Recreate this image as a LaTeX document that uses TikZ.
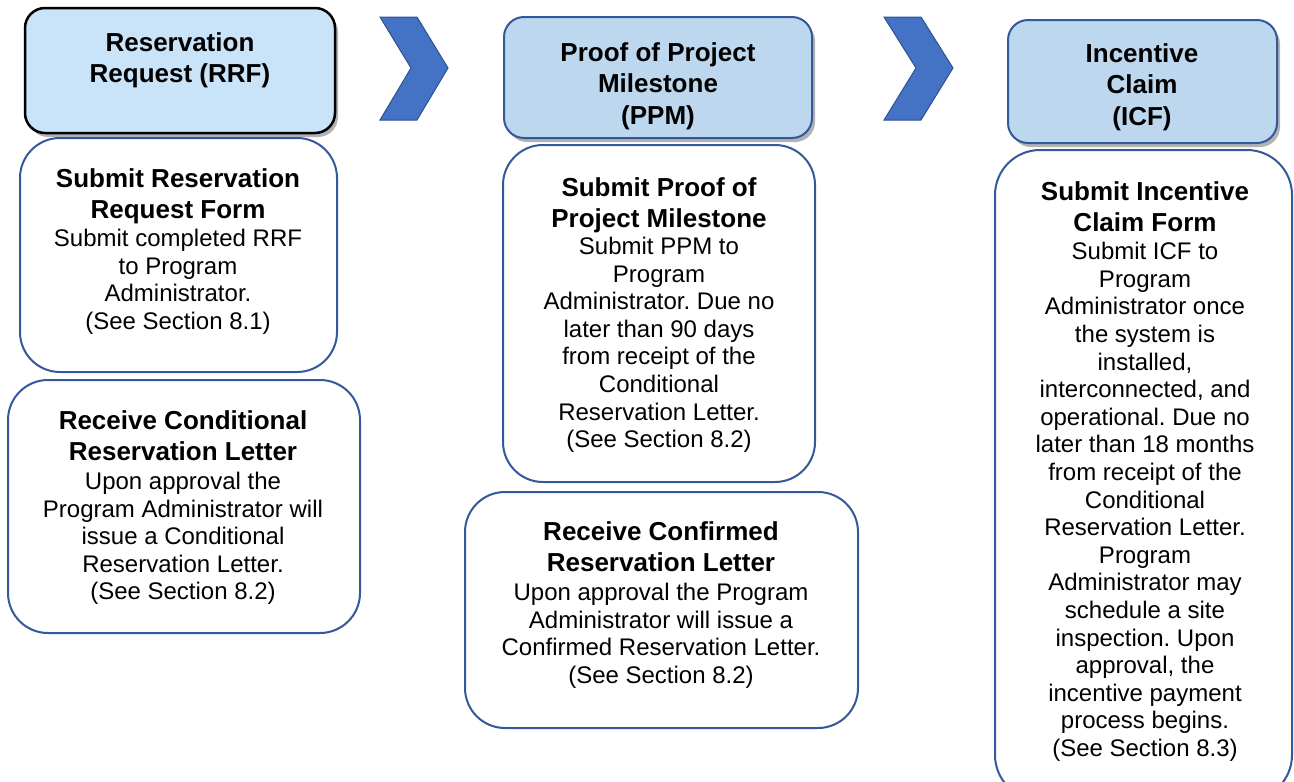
\documentclass[tikz,border=0pt]{standalone}
\usepackage{fontspec}
\setmainfont{Liberation Sans}
\frenchspacing
\usetikzlibrary{shadows}
\definecolor{hdrA}{HTML}{C9E3F8}
\definecolor{hdrB}{HTML}{BDD7EE}
\definecolor{edgeblue}{HTML}{34589A}
\definecolor{chevfill}{HTML}{4472C4}
\definecolor{chevedge}{HTML}{2F528F}
\tikzset{
  hdrbox/.style={rectangle, rounded corners=20pt, line width=2pt, draw=edgeblue, fill=hdrB,
    drop shadow={shadow xshift=3pt, shadow yshift=-4pt, opacity=0.3, fill=black}},
  bodybox/.style={rectangle, rounded corners=40pt, line width=2pt, draw=edgeblue, fill=white},
  hdrtext/.style={anchor=north, inner sep=0pt, align=center, font=\bfseries\fontsize{26}{31.5}\selectfont},
  titletext/.style={anchor=north, inner sep=0pt, align=center, font=\bfseries\fontsize{26}{31}\selectfont},
  bodytext/.style={anchor=north, inner sep=0pt, align=center, font=\fontsize{24}{27.6}\selectfont},
  chev/.style={fill=chevfill, draw=chevedge, line width=1pt, line join=miter}
}
\begin{document}
\begin{tikzpicture}[x=1pt,y=-1pt]
\useasboundingbox (0,0) rectangle (1294,782);
% body boxes
\node[bodybox, minimum width=317pt, minimum height=234pt] (b1) at (178.5,255) {};
\node[bodybox, minimum width=352pt, minimum height=253pt] (b2) at (184,506.5) {};
\node[bodybox, minimum width=312pt, minimum height=337pt] (b3) at (659,313.5) {};
\node[bodybox, minimum width=393pt, minimum height=236pt] (b4) at (661.5,610) {};
\node[bodybox, rounded corners=45pt, minimum width=297pt, minimum height=650pt] (b5) at (1143.5,475) {};
% header boxes
\node[hdrbox, draw=black, line width=2.5pt, fill=hdrA, minimum width=310pt, minimum height=125pt] (h1) at (180,70.5) {};
\node[hdrbox, minimum width=308pt, minimum height=121pt] (h2) at (658,77.5) {};
\node[hdrbox, minimum width=269pt, minimum height=123pt] (h3) at (1142.5,81.5) {};
% header texts
\node[hdrtext] (h1t) at (180,32) {Reservation\\Request (RRF)};
\node[hdrtext] (h2t) at (658,42) {Proof of Project\\Milestone\\(PPM)};
\node[hdrtext] (h3t) at (1142,43) {Incentive\\Claim\\(ICF)};
% chevrons
\draw[chev] (380,17) -- (417,17) -- (448,68) -- (417,120) -- (380,120) -- (411,68) -- cycle;
\draw[chev] (884,17) -- (921,17) -- (953,68) -- (921,120) -- (884,120) -- (916,68) -- cycle;
% box 1
\node[titletext] (b1a) at (178,168) {Submit Reservation\\Request Form};
\node[bodytext] (b1b) at (178,229) {Submit completed RRF\\to Program\\Administrator.\\(See Section 8.1)};
% box 2
\node[titletext] (b2a) at (183,410) {Receive Conditional\\Reservation Letter};
\node[bodytext] (b2b) at (183,472) {Upon approval the\\Program Administrator will\\issue a Conditional\\Reservation Letter.\\(See Section 8.2)};
% box 3
\node[titletext] (b3a) at (659,177) {Submit Proof of\\Project Milestone};
\node[bodytext] (b3b) at (659,237) {Submit PPM to\\Program\\Administrator. Due no\\later than 90 days\\from receipt of the\\Conditional\\Reservation Letter.\\(See Section 8.2)};
% box 4
\node[titletext] (b4a) at (661,521) {Receive Confirmed\\Reservation Letter};
\node[bodytext] (b4b) at (661,583) {Upon approval the Program\\Administrator will issue a\\Confirmed Reservation Letter.\\(See Section 8.2)};
% box 5
\node[titletext] (b5a) at (1145,181) {Submit Incentive\\Claim Form};
\node[bodytext] (b5b) at (1145,242) {Submit ICF to\\Program\\Administrator once\\the system is\\installed,\\interconnected, and\\operational. Due no\\later than 18 months\\from receipt of the\\Conditional\\Reservation Letter.\\Program\\Administrator may\\schedule a site\\inspection. Upon\\approval, the\\incentive payment\\process begins.\\(See Section 8.3)};
\end{tikzpicture}
\end{document}
